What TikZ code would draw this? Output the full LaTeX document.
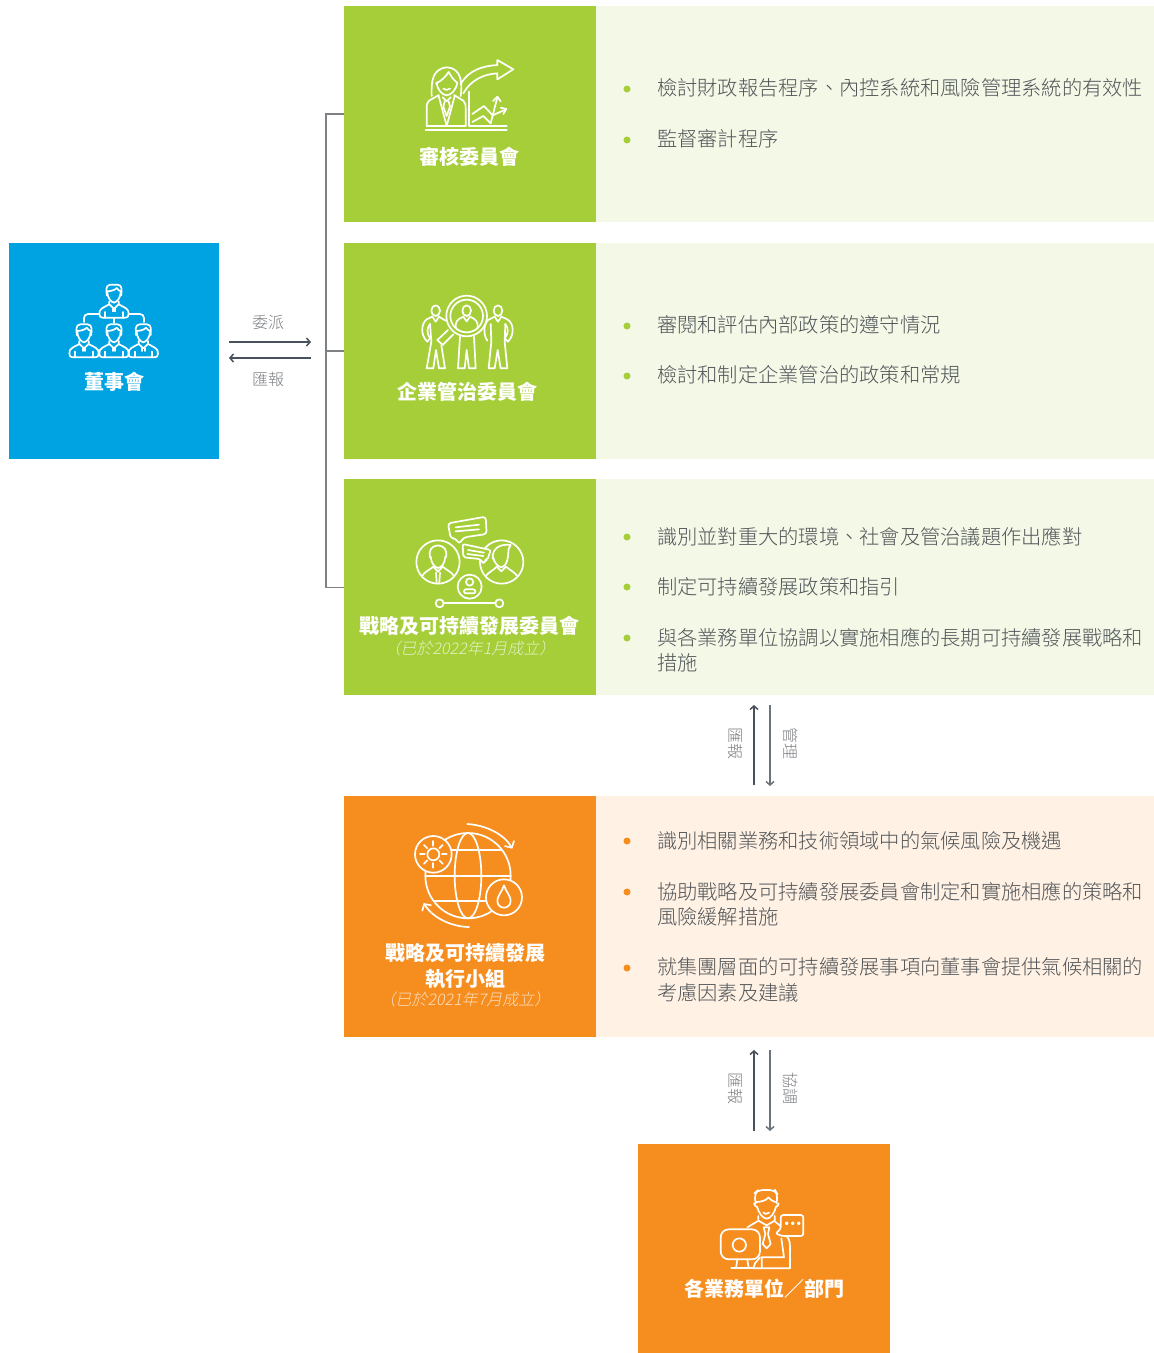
\documentclass[tikz,border=0pt]{standalone}
\usepackage{fontspec}
\usetikzlibrary{arrows.meta}
\newfontfamily\cjk{Noto Sans CJK TC}
\newfontfamily\cjklight{Noto Sans CJK TC Light}
\newfontfamily\cjkit[FakeSlant=0.2]{Noto Sans CJK TC Light}
\definecolor{cgreen}{HTML}{A6CE39}
\definecolor{cpale}{HTML}{F3F8E7}
\definecolor{cblue}{HTML}{00A3E2}
\definecolor{corange}{HTML}{F68D1F}
\definecolor{cpaleo}{HTML}{FFF1E3}
\definecolor{ctext}{HTML}{505458}
\definecolor{clabel}{HTML}{7A7D81}
\definecolor{cdark}{HTML}{47525C}
\definecolor{cmid}{HTML}{6B747C}
\definecolor{cline}{HTML}{7D8185}
\tikzset{
  panel/.style={draw=none,inner sep=0,outer sep=0,anchor=north west},
  bodytext/.style={anchor=west,inner sep=0,align=left,text=ctext,font=\cjklight\fontsize{20.25}{25.4}\selectfont},
  title/.style={inner sep=0,text=white,font=\cjk\bfseries\fontsize{20}{26}\selectfont},
  subtitle/.style={inner sep=0,text=white,text opacity=.72,font=\cjkit\fontsize{16}{20}\selectfont},
  smalllabel/.style={inner sep=0,text=clabel,font=\cjklight\fontsize{16}{20}\selectfont},
  gdot/.style={circle,fill=cgreen,inner sep=0,minimum size=7pt},
  odot/.style={circle,fill=corange,inner sep=0,minimum size=7pt},
  barb/.style={-{Straight Barb[length=3.5pt,width=8pt]},line width=1.5pt},
  icon/.style={x=0.33333pt,y=-0.33333pt,draw=white,line join=round,line cap=round,every path/.style={draw=white,line width=1.7pt}},
  iconbarb/.style={-{Straight Barb[length=5pt,width=11pt]}}
}
\newcommand{\bustfig}[2]{%
  \begin{scope}[shift={(#1,#2)}]
    \draw[rounded corners=4pt] (-22,6) -- (-23,-26) -- (23,-26) -- (22,6);
    \draw (-22,-6) .. controls (-10,-6) and (4,-10) .. (8,-16) .. controls (12,-10) and (16,-7) .. (22,-6);
    \draw (-20,-4) .. controls (-20,12) and (-10,26) .. (0,28) .. controls (10,26) and (20,12) .. (20,-4);
    \draw (-14,33) .. controls (-30,42) and (-46,46) .. (-44,62) .. controls (-44,70) and (-40,73) .. (-34,73) -- (34,73) .. controls (40,73) and (44,70) .. (44,62) .. controls (46,46) and (30,42) .. (14,33);
    \draw (-14,24) -- (-14,33) -- (0,46) -- (14,33) -- (14,24);
    \draw (-26,56) -- (-26,73) (26,56) -- (26,73);
    \draw (-4,46) -- (-4,54) (4,46) -- (4,54);
  \end{scope}}
\begin{document}
\begin{tikzpicture}[x=1pt,y=-1pt]
\useasboundingbox (0,0) rectangle (1154,1353);
% panels
\node[panel,fill=cblue,minimum width=210pt,minimum height=216pt] (board) at (9,243) {};
\node[panel,fill=cgreen,minimum width=252pt,minimum height=216pt] (audit) at (344,6) {};
\node[panel,fill=cpale,minimum width=558pt,minimum height=216pt] (auditp) at (596,6) {};
\node[panel,fill=cgreen,minimum width=252pt,minimum height=216pt] (gov) at (344,243) {};
\node[panel,fill=cpale,minimum width=558pt,minimum height=216pt] (govp) at (596,243) {};
\node[panel,fill=cgreen,minimum width=252pt,minimum height=216pt] (esg) at (344,479) {};
\node[panel,fill=cpale,minimum width=558pt,minimum height=216pt] (esgp) at (596,479) {};
\node[panel,fill=corange,minimum width=252pt,minimum height=241pt] (exec) at (344,796) {};
\node[panel,fill=cpaleo,minimum width=558pt,minimum height=241pt] (execp) at (596,796) {};
\node[panel,fill=corange,minimum width=252pt,minimum height=209pt] (unit) at (638,1144) {};
% bracket
\coordinate (esgin) at ([yshift=-0.7pt]esg.west);
\draw[cline,line width=1.4pt] (audit.west) -- ++(-18,0) |- (esgin);
\draw[cline,line width=1.4pt] (gov.west) -- ++(-18,0);
% horizontal arrows
\coordinate (a1s) at (229,342); \coordinate (a1e) at (311,342);
\coordinate (a2s) at (311,358); \coordinate (a2e) at (229,358);
\draw[barb,cdark] (a1s) -- (a1e);
\draw[barb,cdark] (a2s) -- (a2e);
\node[smalllabel] (l1) at (268,322.5) {委派};
\node[smalllabel] (l2) at (268,379.5) {匯報};
% vertical arrows
\coordinate (v1s) at (754,785); \coordinate (v1e) at (754,705);
\coordinate (v2s) at (770,705); \coordinate (v2e) at (770,786);
\coordinate (v3s) at (754,1131); \coordinate (v3e) at (754,1050);
\coordinate (v4s) at (770,1050); \coordinate (v4e) at (770,1131);
\draw[barb,cdark] (v1s) -- (v1e);
\draw[barb,cmid] (v2s) -- (v2e);
\draw[barb,cdark] (v3s) -- (v3e);
\draw[barb,cmid] (v4s) -- (v4e);
\node[smalllabel,rotate=-90] (l3) at (736,743) {匯報};
\node[smalllabel,rotate=-90] (l4) at (791,743) {管理};
\node[smalllabel,rotate=-90] (l5) at (736,1088) {匯報};
\node[smalllabel,rotate=-90] (l6) at (791,1088) {協調};
% titles
\node[title] (tb) at (114,382) {董事會};
\node[title] (ta) at (469,157) {審核委員會};
\node[title] (tg) at (467,392) {企業管治委員會};
\node[title] (te) at (469.5,626) {戰略及可持續發展委員會};
\node[subtitle] (se) at (470,648) {（已於2022年1月成立）};
\node[title,align=center] (tx) at (465,966.5) {戰略及可持續發展\\執行小組};
\node[subtitle] (sx) at (465,999) {（已於2021年7月成立）};
\node[title] (tu) at (764.5,1289) {各業務單位／部門};
% body text
\node[gdot] (b1) at (627,89) {}; \node[bodytext] (t1) at (657,88) {檢討財政報告程序、內控系統和風險管理系統的有效性};
\node[gdot] (b2) at (627,140) {}; \node[bodytext] (t2) at (657,139) {監督審計程序};
\node[gdot] (b3) at (627,326) {}; \node[bodytext] (t3) at (657,325) {審閱和評估內部政策的遵守情況};
\node[gdot] (b4) at (627,376) {}; \node[bodytext] (t4) at (657,375) {檢討和制定企業管治的政策和常規};
\node[gdot] (b5) at (627,537) {}; \node[bodytext] (t5) at (657,537) {識別並對重大的環境、社會及管治議題作出應對};
\node[gdot] (b6) at (627,587) {}; \node[bodytext] (t6) at (657,587) {制定可持續發展政策和指引};
\node[gdot] (b7) at (627,638) {}; \node[bodytext] (t7) at (657,650) {與各業務單位協調以實施相應的長期可持續發展戰略和\\措施};
\node[odot] (b8) at (627,841) {}; \node[bodytext] (t8) at (657,841) {識別相關業務和技術領域中的氣候風險及機遇};
\node[odot] (b9) at (627,892) {}; \node[bodytext] (t9) at (657,904) {協助戰略及可持續發展委員會制定和實施相應的策略和\\風險緩解措施};
\node[odot] (b10) at (627,968) {}; \node[bodytext] (t10) at (657,980) {就集團層面的可持續發展事項向董事會提供氣候相關的\\考慮因素及建議};
% board icon
\begin{scope}[shift={(0,230)},icon]
  \bustfig{342}{190}\bustfig{252}{309}\bustfig{342}{309}\bustfig{430}{309}
  \draw[rounded corners=4pt] (298,252) -- (252,252) -- (252,276);
  \draw[rounded corners=4pt] (386,252) -- (432,252) -- (432,276);
  \draw (342,264) -- (342,278);
\end{scope}
% audit icon
\begin{scope}[shift={(344,40)},icon]
  \draw (245,270) -- (488,270);
  \draw (375,155) -- (375,258) -- (488,258);
  \draw (248,258) -- (365,258);
  \draw (263,168) .. controls (262,130) and (262,85) .. (310,82) .. controls (352,85) and (356,130) .. (350,168);
  \draw (276,130) .. controls (290,125) and (305,110) .. (314,96) .. controls (322,110) and (330,122) .. (340,128);
  \draw (278,128) .. controls (280,150) and (295,165) .. (308,166) .. controls (322,165) and (336,150) .. (340,128);
  \draw (298,146) .. controls (304,151) and (312,151) .. (318,146);
  \draw (285,165) -- (255,182) .. controls (248,188) and (248,195) .. (248,210) -- (248,258);
  \draw (330,165) -- (358,182) .. controls (365,188) and (365,195) .. (365,210) -- (365,258);
  \draw (284,168) -- (308,258) -- (332,168);
  \draw (296,172) -- (308,184) -- (320,172);
  \draw (302,184) -- (298,200) -- (308,228) -- (318,200) -- (314,184);
  \draw (350,132) .. controls (375,90) and (415,78) .. (460,75) -- (460,60) -- (508,88) -- (460,118) -- (460,100) .. controls (420,102) and (380,120) .. (358,160);
  \draw (385,222) -- (420,198) -- (446,226) -- (486,208);
  \draw (470,203) -- (487,207) -- (478,222);
  \draw (385,246) -- (418,228) -- (440,250) -- (460,172);
  \draw (447,183) -- (460,170) -- (470,184);
\end{scope}
% governance icon
\begin{scope}[shift={(344,280)},icon]
  \draw (368,108) circle[radius=61];
  \draw (368,108) circle[radius=49];
  \draw (368,92) ellipse[x radius=13,y radius=16];
  \draw (336,146) .. controls (332,125) and (340,118) .. (358,110) -- (368,124) -- (378,110) .. controls (396,118) and (404,125) .. (400,146);
  \draw (312,150) -- (280,180) -- (296,195) -- (328,163);
  \draw (275,92) ellipse[x radius=13,y radius=16];
  \draw (462,92) ellipse[x radius=13,y radius=16];
  \draw (265,110) -- (248,118) .. controls (232,130) and (228,165) .. (250,185) -- (258,175) .. controls (248,160) and (248,145) .. (258,132);
  \draw (285,110) -- (275,125) -- (265,110);
  \draw (285,110) -- (305,122);
  \draw (258,132) -- (262,185) -- (248,265) -- (268,265) -- (276,210) -- (285,265) -- (303,265) -- (292,195);
  \draw (472,110) -- (490,118) .. controls (510,130) and (512,165) .. (492,185) -- (482,175) .. controls (494,160) and (494,145) .. (484,132);
  \draw (452,110) -- (462,125) -- (472,110);
  \draw (452,110) -- (432,120) .. controls (418,135) and (418,165) .. (430,182);
  \draw (440,132) -- (442,185) -- (434,265) -- (452,265) -- (461,210) -- (470,265) -- (490,265) -- (482,185) -- (484,132);
  \draw (348,170) -- (342,265) -- (362,265) -- (368,210) -- (375,265) -- (395,265) -- (390,170);
\end{scope}
% ESG icon
\begin{scope}[shift={(344,500)},icon]
  \draw (282,186) circle[radius=65];
  \draw (473,186) circle[radius=65];
  \draw (377,260) circle[radius=36];
  \draw (377,246) circle[radius=11];
  \draw[rounded corners=2pt] (360,280) -- (360,268) -- (394,268) -- (394,280) -- cycle;
  \draw (287,310) circle[radius=12];
  \draw (466,310) circle[radius=12];
  \draw (299,310) -- (454,310);
  \draw[rounded corners=3pt] (312,70) -- (425,50) -- (428,102) -- (360,112) -- (345,132) -- (335,115) -- (320,115) -- cycle;
  \draw (335,82) -- (405,74) (335,94) -- (405,88);
  \draw[fill=cgreen,rounded corners=2pt] (356,132) -- (440,150) -- (430,180) -- (422,180) -- (420,192) -- (408,177) -- (358,172) -- cycle;
  \draw (372,150) -- (420,158) (370,162) -- (418,168);
  % left person
  \draw (258,172) .. controls (254,150) and (262,138) .. (282,136) .. controls (302,138) and (310,150) .. (306,172);
  \draw (260,170) .. controls (262,190) and (272,202) .. (282,204) .. controls (294,202) and (302,190) .. (304,170);
  \draw (235,228) .. controls (240,215) and (255,212) .. (268,200) -- (282,215) -- (296,200) .. controls (310,212) and (322,215) .. (330,228);
  \draw (276,218) -- (278,248) (288,218) -- (286,248);
  % right person
  \draw (446,176) .. controls (444,150) and (462,130) .. (500,135) .. controls (492,142) and (494,150) .. (492,170);
  \draw (448,172) .. controls (450,188) and (462,200) .. (472,202) .. controls (482,200) and (490,188) .. (492,170);
  \draw (425,228) .. controls (435,215) and (448,212) .. (458,200) -- (472,214) -- (486,200) .. controls (500,212) and (510,215) .. (520,228);
\end{scope}
% exec icon
\begin{scope}[shift={(344,810)},icon]
  \draw (372,197) circle[radius=128];
  \draw (372,197) ellipse[x radius=40,y radius=128];
  \draw (244,197) -- (500,197);
  \draw (270,120) -- (474,120) (270,274) -- (474,274);
  \draw[fill=corange] (268,133) circle[radius=55];
  \draw (268,133) circle[radius=18];
  \foreach \a in {0,45,...,315} {\draw (\a:0) ++(268,133) ++(\a:26) -- ++(\a:14);}
  \draw[fill=corange] (480,262) circle[radius=54];
  \draw (480,226) .. controls (474,245) and (460,258) .. (460,272) .. controls (460,300) and (500,300) .. (500,272) .. controls (500,258) and (486,245) .. (480,226);
  \draw[iconbarb] (370,42) .. controls (430,46) and (482,75) .. (505,116);
  \draw[iconbarb] (375,351) .. controls (320,350) and (265,322) .. (239,279);
\end{scope}
% unit icon
\begin{scope}[shift={(660,1170)},icon]
  \draw[rounded corners=5pt] (287,100) -- (283,70) -- (295,60) -- (345,60) -- (352,72) -- (350,100);
  \draw (288,96) .. controls (300,96) and (320,92) .. (325,82) .. controls (330,90) and (340,94) .. (346,96);
  \draw (282,100) .. controls (284,108) and (288,110) .. (291,110) .. controls (296,128) and (308,146) .. (320,146) .. controls (332,146) and (344,128) .. (348,110) .. controls (352,110) and (356,106) .. (356,100);
  \draw (310,128) .. controls (315,133) and (322,133) .. (327,128);
  \draw (295,138) -- (295,152) -- (320,166) -- (344,152) -- (344,138);
  \draw (311,172) -- (328,172) -- (324,192) -- (332,222) -- (320,235) -- (308,222) -- (316,192) -- cycle;
  \draw (292,154) -- (262,172);
  \draw (344,154) -- (364,170);
  \draw (364,192) .. controls (385,196) and (390,210) .. (390,230) -- (390,295) -- (280,295);
  \draw (364,205) -- (372,262) -- (305,262) -- (305,295);
  \draw (300,262) -- (285,280) -- (280,295);
  \draw[fill=corange,rounded corners=8pt] (182,178) rectangle (300,268);
  \draw (238,225) circle[radius=20];
  \draw (232,268) -- (228,295) (262,268) -- (266,295);
  \draw (214,295) -- (282,295);
  \draw[fill=corange,rounded corners=2.5pt] (362,135) -- (430,135) -- (430,198) -- (366,198) -- (346,190) -- (362,178) -- cycle;
  \fill[white] (380,160) circle[radius=3] (398,160) circle[radius=3] (416,160) circle[radius=3];
\end{scope}
\end{tikzpicture}
\end{document}
